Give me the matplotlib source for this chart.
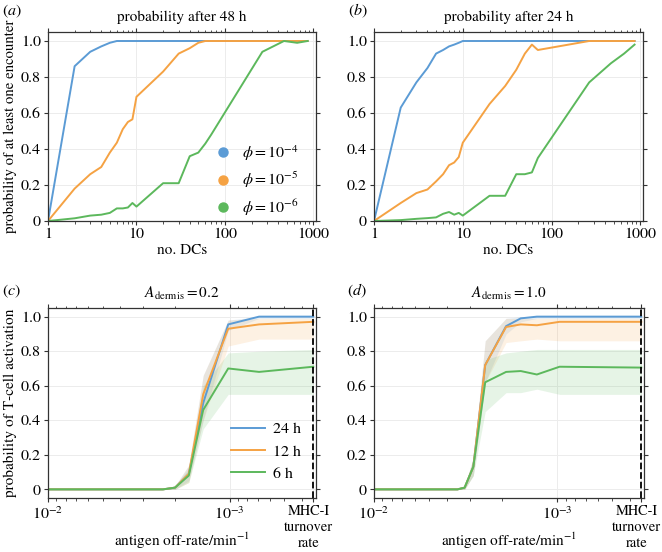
import matplotlib
matplotlib.use("Agg")
import matplotlib.pyplot as plt
import matplotlib.transforms as mtransforms
from matplotlib.lines import Line2D
from matplotlib.ticker import LogLocator, NullFormatter

plt.rcParams['font.family'] = 'STIXGeneral'
plt.rcParams['mathtext.fontset'] = 'stix'
plt.rcParams['font.size'] = 11

blue, orange, green = '#5b9bd5', '#f5a243', '#5cb85c'

# (a), (b): number of DCs vs probability of at least one encounter
dcs = [1, 2, 3, 4, 5, 6, 7, 8, 9, 10, 20, 30, 40, 50, 60, 70, 265, 465, 655, 860]
a_phi4 = [0, .86, .94, .97, .99, 1, 1, 1, 1, 1, 1, 1, 1, 1, 1, 1, 1, 1, 1, 1]
a_phi5 = [0, .18, .26, .30, .38, .435, .51, .55, .565, .69, .83, .93, .96, .99, 1, 1, 1, 1, 1, 1]
a_phi6 = [0, .015, .03, .035, .045, .07, .07, .075, .10, .08, .21, .21, .36, .38, .43, .48, .94, 1.0, .99, 1.0]
b_phi4 = [0, .63, .77, .85, .93, .95, .97, .98, .99, 1, 1, 1, 1, 1, 1, 1, 1, 1, 1, 1]
b_phi5 = [0, .10, .155, .175, .22, .26, .31, .325, .355, .435, .65, .75, .84, .93, .98, .95, 1, 1, 1, 1]
b_phi6 = [0, .005, .012, .016, .02, .04, .05, .035, .045, .03, .14, .14, .26, .26, .27, .35, .77, .876, .93, .98]
phi_labels = [r'$\phi = 10^{-4}$', r'$\phi = 10^{-5}$', r'$\phi = 10^{-6}$']

# (c), (d): antigen off-rate vs probability of T-cell activation
mhc_rate = 1 / 2880.0
c_rate = [1.0e-2, 5e-3, 3.3e-3, 2.8e-3, 2.33e-3, 2.0e-3, 1.68e-3, 1.40e-3, 1.02e-3, 6.9e-4, mhc_rate]
c_24 = [0, 0, 0, 0, 0, .01, .09, .50, .955, 1.0, 1.0]
c_24_lo = [0, 0, 0, 0, 0, 0, .05, .40, .92, .99, .99]
c_24_hi = [0, 0, 0, 0, 0, .02, .14, .66, .98, 1, 1]
c_12 = [0, 0, 0, 0, 0, .01, .09, .55, .93, .955, .97]
c_12_lo = [0, 0, 0, 0, 0, 0, .04, .40, .83, .87, .87]
c_12_hi = [0, 0, 0, 0, 0, .02, .14, .66, .98, .99, .99]
c_6 = [0, 0, 0, 0, 0, .01, .08, .46, .70, .68, .71]
c_6_lo = [0, 0, 0, 0, 0, 0, .04, .35, .55, .55, .55]
c_6_hi = [0, 0, 0, 0, 0, .02, .12, .60, .79, .80, .81]

d_rate = [1.0e-2, 5e-3, 3.5e-3, 3.2e-3, 2.87e-3, 2.47e-3, 1.9e-3, 1.58e-3, 1.29e-3, 9.7e-4, mhc_rate]
d_24 = [0, 0, 0, .01, .13, .72, .945, .99, 1.0, 1.0, 1.0]
d_24_lo = [0, 0, 0, 0, .08, .62, .90, .97, .99, .99, .99]
d_24_hi = [0, 0, 0, .02, .18, .86, .99, 1, 1, 1, 1]
d_12 = [0, 0, 0, .01, .13, .72, .94, .955, .95, .97, .97]
d_12_lo = [0, 0, 0, 0, .08, .62, .85, .86, .87, .86, .86]
d_12_hi = [0, 0, 0, .02, .18, .86, .99, .99, .99, .99, .99]
d_6 = [0, 0, 0, .01, .13, .62, .68, .685, .665, .71, .705]
d_6_lo = [0, 0, 0, 0, .08, .45, .56, .56, .58, .55, .55]
d_6_hi = [0, 0, 0, .02, .18, .75, .79, .80, .81, .81, .81]
time_labels = ['24 h', '12 h', '6 h']

yticks = [0, 0.2, 0.4, 0.6, 0.8, 1.0]
ytick_labels = ['0', '0.2', '0.4', '0.6', '0.8', '1.0']

fig = plt.figure(figsize=(6.62, 5.52), dpi=100)
W, H = 662.0, 552.0


def add_ax(l, t, r, b):
    return fig.add_axes([l / W, 1 - b / H, (r - l) / W, (b - t) / H])


def style(ax):
    ax.grid(True, which='major', color='#ececec', lw=0.7)
    ax.set_axisbelow(True)
    ax.tick_params(which='both', top=True, right=True, direction='out',
                   labelsize=11.5, color='#333333', pad=2)
    ax.tick_params(which='major', length=3)
    ax.tick_params(which='minor', length=1.8)
    for s in ax.spines.values():
        s.set_color('#333333')
        s.set_linewidth(0.9)
    ax.set_yticks(yticks)
    ax.set_yticklabels(ytick_labels)


ax_a = add_ax(48, 32, 316, 221)
ax_b = add_ax(374, 32, 643, 221)
ax_c = add_ax(48, 308, 316, 498)
ax_d = add_ax(374, 308, 644, 498)

for ax, series, title in [(ax_a, [a_phi4, a_phi5, a_phi6], 'probability after 48 h'),
                          (ax_b, [b_phi4, b_phi5, b_phi6], 'probability after 24 h')]:
    for y, c in zip(series, [blue, orange, green]):
        ax.plot(dcs, y, color=c, lw=1.4)
    ax.set_xscale('log')
    ax.set_xlim(1, 1070)
    ax.set_ylim(0, 1.05)
    ax.set_xticks([1, 10, 100, 1000])
    ax.set_xticklabels(['1', '10', '100', '1000'])
    ax.xaxis.set_minor_locator(LogLocator(subs=range(2, 10)))
    ax.xaxis.set_minor_formatter(NullFormatter())
    style(ax)
    ax.set_xlabel('no. DCs', fontsize=11, labelpad=2)
    ax.set_title(title, fontsize=11, pad=8)

ax_a.set_ylabel('probability of at least one encounter', fontsize=10.6, labelpad=3)
handles = [Line2D([], [], marker='o', ls='', color=c, markersize=6.5) for c in [blue, orange, green]]
ax_a.legend(handles, phi_labels, loc='lower left', bbox_to_anchor=(0.54, -0.06), frameon=False,
            fontsize=11.5, handletextpad=0.2, labelspacing=0.45)

for ax, rate, series, title in [
        (ax_c, c_rate, [(c_24, c_24_lo, c_24_hi), (c_12, c_12_lo, c_12_hi), (c_6, c_6_lo, c_6_hi)],
         r'$A_{\rm dermis} = 0.2$'),
        (ax_d, d_rate, [(d_24, d_24_lo, d_24_hi), (d_12, d_12_lo, d_12_hi), (d_6, d_6_lo, d_6_hi)],
         r'$A_{\rm dermis} = 1.0$')]:
    for (y, lo, hi), c, lab in zip(series, [blue, orange, green], time_labels):
        ax.fill_between(rate, lo, hi, color=c, alpha=0.15, lw=0)
        ax.plot(rate, y, color=c, lw=1.4, label=lab)
    ax.axvline(mhc_rate, color='black', ls='--', lw=1.3)
    ax.set_xscale('log')
    ax.set_xlim(1e-2, mhc_rate / 1.035)
    ax.set_ylim(-0.05, 1.05)
    ax.set_xticks([1e-2, 1e-3, mhc_rate])
    ax.set_xticklabels([r'$10^{-2}$', r'$10^{-3}$', 'MHC-I\nturnover\nrate'])
    ax.xaxis.set_minor_locator(LogLocator(subs=range(2, 10)))
    ax.xaxis.set_minor_formatter(NullFormatter())
    style(ax)
    mhc_lab = ax.get_xticklabels()[2]
    mhc_lab.set_fontsize(10.4)
    mhc_lab.set_linespacing(1.25)
    mhc_lab.set_transform(mhc_lab.get_transform() +
                          mtransforms.ScaledTranslation(-4.5 / 100, 0, fig.dpi_scale_trans))
    ax.set_xlabel(r'antigen off-rate/min$^{-1}$', fontsize=11)
    ax.xaxis.set_label_coords(0.5, -0.17)
    ax.set_title(title, fontsize=11, pad=7)

ax_c.set_ylabel('probability of T-cell activation', fontsize=11, labelpad=3)
ax_c.legend(loc='lower left', bbox_to_anchor=(0.63, 0.015), frameon=False, fontsize=11.5,
            handlelength=2.1, handletextpad=0.5, labelspacing=0.5)

for x, y, s in [(2, 11, 'a'), (348, 11, 'b'), (2, 291, 'c'), (347, 291, 'd')]:
    fig.text(x / W, 1 - y / H, '($%s$)' % s, fontsize=11.5, va='center', ha='left')

fig.savefig('out.png', dpi=100)
